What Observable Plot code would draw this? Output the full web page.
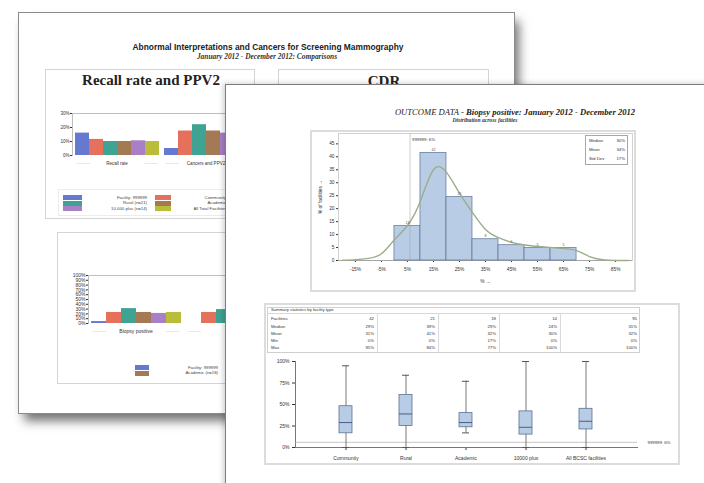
<!DOCTYPE html>
<html><head><meta charset="utf-8">
<script src="https://cdn.jsdelivr.net/npm/d3@7"></script>
<script src="https://cdn.jsdelivr.net/npm/@observablehq/plot@0.6"></script>
<style>
html,body{margin:0;padding:0;background:#fff;width:704px;height:483px;overflow:hidden;}
.layer{position:absolute;left:0;top:0;width:704px;height:483px;}
#back{z-index:1} #front{z-index:2}
.blk{position:absolute;box-sizing:border-box;}
.txt{position:absolute;white-space:nowrap;line-height:1;}
.sans{font-family:"Liberation Sans",Arial,sans-serif;}
.serif{font-family:"Liberation Serif","Times New Roman",serif;}
svg{display:block;}
</style></head><body>
<div id="back" class="layer"></div>
<div id="front" class="layer"></div>
<script>
// ---------------- DATA ----------------
const backTitle = "Abnormal Interpretations and Cancers for Screening Mammography";
const backSubtitle = "January 2012 - December 2012: Comparisons";
const panelTitles = ["Recall rate and PPV2", "CDR"];
const facilityTypes = ["Facility: 999999", "Community (n=42)", "Rural (n=21)", "Academic (n=18)", "10,000 plus (n=14)", "All Total Facilities (n=95)"];
const typeColors = ["#6479cf", "#e5705c", "#3fa394", "#a37a53", "#a97fc7", "#b9bd3a"];
const groupsA = ["Recall rate", "Cancers and PPV2"];
const recallVals = [16, 11.5, 10, 10, 10.5, 10];
const ppv2Vals = [5, 17.5, 22, 17.5, 16, 17];
const yTicksA = [0, 10, 20, 30];
const groupsB = ["Biopsy positive", "CDR"];
const biopsyVals = [4, 23, 31, 23, 21, 23];
const cancerVals = [0, 23, 29, 22, 20, 22];
const yTicksB = [0, 10, 20, 30, 40, 50, 60, 70, 80, 90, 100];

const frontTitleA = "OUTCOME DATA - ";
const frontTitleB = "Biopsy positive: January 2012 - December 2012";
const frontSubtitle = "Distribution across facilities";
const binStarts = [0, 10, 20, 30, 40, 50, 60];
const binPct = [13.3, 41.5, 24.5, 8.2, 5.9, 4.8, 4.8];
const curveX = [-20, -15, -10, -5, 0, 5, 10, 15, 20, 25, 30, 35, 40, 45, 50, 55, 60, 65, 70, 75, 80, 85, 90];
const curveY = [0.1, 0.3, 0.8, 2.6, 8, 13.5, 23, 35, 34, 26, 18.5, 12, 8.8, 7, 6, 5.4, 5, 4.6, 3.8, 1.5, 0.3, 0, 0];
const histXTicks = [-15, -5, 5, 15, 25, 35, 45, 55, 65, 75, 85];
const histYTicks = [0, 5, 10, 15, 20, 25, 30, 35, 40, 45];
const statLabels = ["Median", "Mean", "Std Dev"];
const statValues = ["30%", "34%", "17%"];
const facilityId = "999999";
const facilityValue = 6;

const tableTitle = "Summary statistics by facility type";
const tableRowLabels = ["Facilities", "Median", "Mean", "Min", "Max"];
const boxCats = ["Community", "Rural", "Academic", "10000 plus", "All BCSC facilities"];
const boxN = [42, 21, 18, 14, 95];
const boxMin = [0, 0, 17, 0, 0];
const boxQ1 = [16.5, 25, 23.5, 15, 21];
const boxMed = [29, 39, 29, 23.5, 30.5];
const boxMean = [31, 41, 32, 30, 32];
const boxQ3 = [48, 61, 40, 42, 45];
const boxMax = [95, 84, 77, 100, 100];
const boxYTicks = [0, 25, 50, 75, 100];

// ---------------- HELPERS ----------------
const back = document.getElementById("back");
const front = document.getElementById("front");
function blk(layer, x, y, w, h, css) {
  const d = document.createElement("div");
  d.className = "blk";
  Object.assign(d.style, {left: x + "px", top: y + "px", width: w + "px", height: h + "px"}, css || {});
  layer.appendChild(d);
  return d;
}
function txt(layer, s, x, y, cls, css, anchor) {
  const d = document.createElement("div");
  d.className = "txt " + (cls || "");
  d.textContent = s;
  Object.assign(d.style, {left: x + "px", top: y + "px"}, css || {});
  const tx = anchor === "start" ? "0" : anchor === "end" ? "-100%" : "-50%";
  d.style.transform = `translate(${tx},-50%)`;
  layer.appendChild(d);
  return d;
}
function place(layer, node, x, y) {
  const d = document.createElement("div");
  d.style.position = "absolute";
  d.style.left = x + "px";
  d.style.top = y + "px";
  d.appendChild(node);
  layer.appendChild(d);
}
const baseStyle = {fontFamily: "'Liberation Sans', Arial, sans-serif", background: "transparent", overflow: "visible", color: "#333"};

// ---------------- BACK PAGE ----------------
blk(back, 18, 12, 497, 402, {background: "#fff", border: "1px solid #8a8a8a", boxShadow: "5px 8px 10px -1px rgba(0,0,0,0.55)"});
txt(back, backTitle, 268, 47, "sans", {fontSize: "8.4px", fontWeight: "bold", color: "#222"});
txt(back, backSubtitle, 267, 57, "serif", {fontSize: "7.4px", fontWeight: "bold", fontStyle: "italic", color: "#333"});
blk(back, 45, 69, 210, 150, {border: "1px solid #d4d4d4"});
blk(back, 278, 69, 211, 150, {border: "1px solid #d4d4d4"});
txt(back, panelTitles[0], 151, 80, "serif", {fontSize: "15px", fontWeight: "bold", color: "#222"});
txt(back, panelTitles[1], 384, 81, "serif", {fontSize: "15px", fontWeight: "bold", color: "#222"});
blk(back, 57, 232, 420, 152, {border: "1px solid #d4d4d4"});

function groupedBars(groups, series, opts) {
  const rows = groups.flatMap((g, gi) => facilityTypes.map((t, ti) => ({group: g, type: t, value: series[gi][ti]})));
  return Plot.plot({
    width: opts.width, height: opts.height,
    marginLeft: opts.ml, marginRight: opts.mr, marginTop: opts.mt, marginBottom: opts.mb,
    style: Object.assign({}, baseStyle, {fontSize: opts.fs + "px"}),
    fx: {domain: groups, padding: 0, axis: "bottom", label: null, tickSize: 0, tickPadding: 6},
    x: {domain: facilityTypes, axis: null, paddingInner: 0, paddingOuter: 0.08},
    y: {domain: opts.ydomain, ticks: opts.yticks, tickFormat: d => d + "%", label: null, tickSize: 2, tickPadding: 1},
    color: {domain: facilityTypes, range: typeColors},
    marks: [
      Plot.frame({anchor: "top", stroke: "#bdbdbd", facet: "super"}),
      Plot.frame({anchor: "left", stroke: "#bdbdbd", facet: "super"}),
      Plot.barY(rows, {fx: "group", x: "type", y: "value", fill: "type"}),
      Plot.text(groups, {fx: d => d, text: () => "———", frameAnchor: "bottom-left", dx: 4, dy: 9, textAnchor: "start", fill: "#c8c8c8", fontSize: 4.5}),
      Plot.text(groups.slice(0, 1), {fx: d => d, text: () => "———", frameAnchor: "bottom-right", dx: -4, dy: 9, textAnchor: "end", fill: "#c8c8c8", fontSize: 4.5})
    ]
  });
}
place(back, groupedBars(groupsA, [recallVals, ppv2Vals], {width: 202, height: 70, ml: 22, mr: 2, mt: 8, mb: 20, fs: 4.5, ydomain: [0, 30], yticks: yTicksA}), 50, 105);
place(back, groupedBars(groupsB, [biopsyVals, cancerVals], {width: 218, height: 72, ml: 26, mr: 2, mt: 7, mb: 17, fs: 5, ydomain: [0, 100], yticks: yTicksB}), 62, 268);

// legends
blk(back, 58, 189, 195, 27, {border: "1px solid #ececec"});
facilityTypes.forEach((t, i) => {
  const col = i % 2, row = Math.floor(i / 2);
  const sx = col === 0 ? 63 : 155, ex = col === 0 ? 147 : 240;
  blk(back, sx, 195 + row * 5.5, col === 0 ? 19 : 16, 5, {background: typeColors[i]});
  txt(back, t, ex, 197.5 + row * 5.5, "sans", {fontSize: "4.3px", color: "#444"}, "end");
});
facilityTypes.forEach((t, i) => {
  const col = i % 3, row = Math.floor(i / 3);
  const sx = 135 + col * 93, ex = 218 + col * 93;
  blk(back, sx, 365 + row * 5.5, 14, 5, {background: typeColors[i]});
  txt(back, t, ex, 367.5 + row * 5.5, "sans", {fontSize: "4.3px", color: "#444"}, "end");
});

// ---------------- FRONT PAGE ----------------
blk(front, 225, 84, 500, 420, {background: "#fff", borderLeft: "1px solid #7d7d7d", borderTop: "1px solid #7d7d7d", boxShadow: "-2px -1px 5px rgba(0,0,0,0.18)"});
const t1 = txt(front, "", 515, 112, "serif", {fontSize: "8.6px", fontStyle: "italic", color: "#222"});
t1.innerHTML = `<span>${frontTitleA}</span><span style="font-weight:bold">${frontTitleB}</span>`;
txt(front, frontSubtitle, 485, 120.5, "serif", {fontSize: "5.6px", fontStyle: "italic", fontWeight: "bold", color: "#333"});

// histogram panel
blk(front, 310, 130, 326, 162, {border: "2px solid #dcdcdc"});
const histData = binStarts.map((b, i) => ({x0: b, x1: b + 10, pct: binPct[i]}));
const curveData = curveX.map((x, i) => ({x, y: curveY[i]}));
const hist = Plot.plot({
  width: 326, height: 162, marginLeft: 28, marginRight: 4, marginTop: 3, marginBottom: 32,
  style: Object.assign({}, baseStyle, {fontSize: "4.8px"}),
  x: {domain: [-21.5, 91.5], ticks: histXTicks, tickFormat: d => d + "%", label: "%", labelAnchor: "center", labelOffset: 22, tickSize: 2, tickPadding: 5},
  y: {domain: [0, 49], ticks: histYTicks, label: "% of facilities", labelAnchor: "center", labelOffset: 20, tickSize: 2, tickPadding: 2},
  marks: [
    Plot.frame({stroke: "#d2d2d2"}),
    Plot.ruleY([0], {stroke: "#888", strokeWidth: 0.6}),
    Plot.rectY(histData, {x1: "x0", x2: "x1", y: "pct", fill: "#b9cce6", stroke: "#5b7194", strokeWidth: 0.7}),
    Plot.ruleX([facilityValue], {stroke: "#9a9a9a", strokeWidth: 0.5}),
    Plot.text([facilityValue], {x: d => d, y: 46.8, text: d => `${facilityId}: ${d}%`, textAnchor: "start", dx: 2, fontSize: 4.3, fill: "#333"}),
    Plot.line(curveData, {x: "x", y: "y", stroke: "#9cad8a", strokeWidth: 1.4, curve: "natural"}),
    Plot.text(histData, {x: d => d.x0 + 5, y: "pct", text: d => String(Math.round(d.pct)), dy: -3, fontSize: 3.6, fill: "#555"})
  ]
});
place(front, hist, 310, 130);
// stats box
blk(front, 585, 135, 43, 30, {border: "1px solid #a8a8a8", background: "#fff"});
statLabels.forEach((s, i) => {
  txt(front, s, 589, 141 + i * 9, "sans", {fontSize: "4.3px", color: "#333"}, "start");
  txt(front, statValues[i], 625, 141 + i * 9, "sans", {fontSize: "4.3px", color: "#333"}, "end");
});

// box plot panel
blk(front, 264, 303, 416, 162, {border: "2px solid #dcdcdc"});
// table
blk(front, 267, 307, 373, 46, {border: "1px solid #cfcfcf"});
blk(front, 267, 313, 373, 1, {background: "#d8d8d8"});
txt(front, tableTitle, 271, 310, "sans", {fontSize: "4.2px", color: "#333"}, "start");
const colEdges = [377, 438, 499, 560, 640];
colEdges.slice(0, 4).forEach(x => blk(front, x, 313, 1, 40, {background: "#dadada"}));
const tableCols = [boxN.map(String), boxMed.map(v => Math.round(v) + "%"), boxMean.map(v => v + "%"), boxMin.map(v => v + "%"), boxMax.map(v => v + "%")];
tableRowLabels.forEach((lab, r) => {
  const y = 319.3 + r * 7.25;
  txt(front, lab, 271, y, "sans", {fontSize: "4.3px", color: "#333"}, "start");
  boxCats.forEach((c, ci) => txt(front, tableCols[r][ci], colEdges[ci] - 3, y, "sans", {fontSize: "4.3px", color: "#333"}, "end"));
});

const boxData = boxCats.map((c, i) => ({cat: c, min: boxMin[i], q1: boxQ1[i], med: boxMed[i], q3: boxQ3[i], max: boxMax[i]}));
const boxes = Plot.plot({
  width: 416, height: 110, marginLeft: 31, marginRight: 43, marginTop: 6, marginBottom: 18,
  style: Object.assign({}, baseStyle, {fontSize: "5px"}),
  x: {domain: boxCats, paddingInner: 0.78, paddingOuter: 0.7, label: null, tickSize: 3, tickPadding: 6},
  y: {domain: [0, 100], ticks: boxYTicks, tickFormat: d => d + "%", label: null, tickSize: 3, tickPadding: 3},
  marks: [
    Plot.frame({anchor: "left", stroke: "#777"}),
    Plot.frame({anchor: "bottom", stroke: "#777"}),
    Plot.ruleY([facilityValue], {stroke: "#a0a0a0", strokeWidth: 0.6}),
    Plot.text([facilityValue], {y: d => d, text: d => `${facilityId}: ${d}%`, frameAnchor: "right", dx: 10, textAnchor: "start", fontSize: 4.3, fill: "#333"}),
    Plot.ruleX(boxData, {x: "cat", y1: "min", y2: "max", stroke: "#555", strokeWidth: 0.8}),
    Plot.tickY(boxData, {x: "cat", y: "min", stroke: "#555", insetLeft: 3, insetRight: 3}),
    Plot.tickY(boxData, {x: "cat", y: "max", stroke: "#555", insetLeft: 3, insetRight: 3}),
    Plot.barY(boxData, {x: "cat", y1: "q1", y2: "q3", fill: "#b9cce6", stroke: "#5b7194", strokeWidth: 0.8}),
    Plot.tickY(boxData, {x: "cat", y: "med", stroke: "#4a5e86", strokeWidth: 1})
  ]
});
place(front, boxes, 264, 355);
</script>
</body></html>
